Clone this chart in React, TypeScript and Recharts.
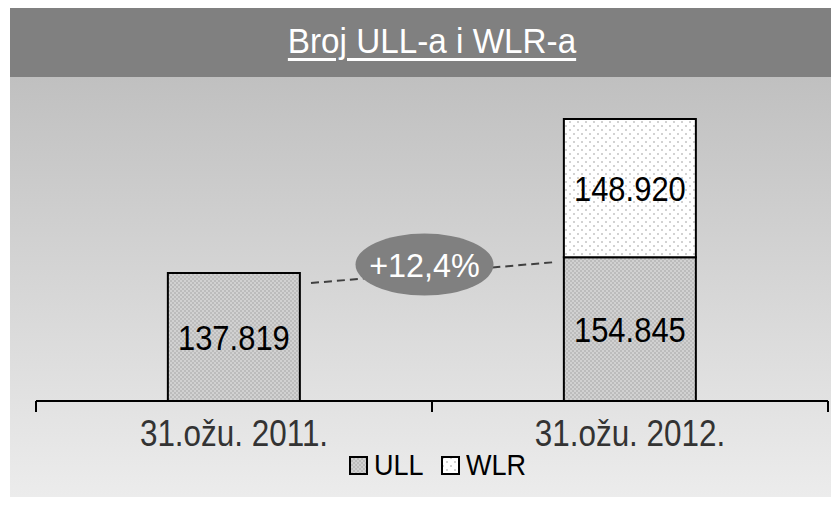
import { BarChart, Bar, XAxis, YAxis, LabelList, Legend, ReferenceLine } from 'recharts';

const categories = ['31.ožu. 2011.', '31.ožu. 2012.'];
const ullValues = [137819, 154845];
const wlrValues = [0, 148920];
const growthLabel = '+12,4%';
const seriesNames = ['ULL', 'WLR'];

const data = categories.map((name, i) => ({ name, ULL: ullValues[i], WLR: wlrValues[i] || null }));

const FONT = '"Liberation Sans", Arial, sans-serif';

const fmt = (v: any) => (v ? Number(v).toLocaleString('de-DE') : '');

// narrow look: squeeze Liberation Sans horizontally
const NarrowText = ({ x, y, size, sx, fill, children }: any) => (
    <text
        transform={`translate(${x},${y}) scale(${sx},1)`}
        textAnchor="middle"
        fill={fill}
        fontSize={size}
        fontFamily={FONT}
    >
        {children}
    </text>
);

const GrowthShape = (props: any) => {
    const { x1, y1, x2, y2 } = props;
    if (x1 == null) return null;
    const half = (x2 - x1) / 6;
    const sx = x1 + half + 11;
    const ex = x2 - half - 10;
    const sy = y1 + 10;
    const ey = y2 + 5;
    const cx = (sx + ex) / 2 - 8;
    const cy = (sy + ey) / 2 - 8;
    return (
        <g>
            <line x1={sx} y1={sy} x2={ex} y2={ey} stroke="#404040" strokeWidth={2} strokeDasharray="8 5" />
            <ellipse cx={cx} cy={cy} rx={69} ry={31} fill="#808080" />
            <NarrowText x={cx} y={cy + 12} size={33} sx={0.98} fill="#fff">{growthLabel}</NarrowText>
        </g>
    );
};

const renderBarLabel = (props: any) => {
    const { x, y, width, height, value } = props;
    if (!value) return null;
    return (
        <NarrowText x={x + width / 2} y={y + height / 2 + 13} size={36} sx={0.86} fill="#000">
            {fmt(value)}
        </NarrowText>
    );
};

const renderTick = (props: any) => {
    const { x, y, payload, index } = props;
    const bw = 792 / categories.length;
    const ay = y - 8;
    return (
        <g>
            <line x1={x - bw / 2} y1={ay} x2={x - bw / 2} y2={ay + 11} stroke="#000" strokeWidth={2} />
            {index === categories.length - 1 && (
                <line x1={x + bw / 2} y1={ay} x2={x + bw / 2} y2={ay + 11} stroke="#000" strokeWidth={2} />
            )}
            <NarrowText x={x} y={ay + 45} size={37} sx={0.85} fill="#333">{payload.value}</NarrowText>
        </g>
    );
};

const renderLegend = () => (
    <div style={{ height: 30, display: 'flex', justifyContent: 'center', alignItems: 'center', paddingLeft: 34, fontFamily: FONT, fontSize: 30, color: '#000' }}>
        {seriesNames.map((name, i) => (
            <span key={name} style={{ display: 'flex', alignItems: 'center', marginLeft: i ? 16 : 0 }}>
                <svg width={19} height={19} style={{ marginRight: 6 }}>
                    <rect x={1} y={1} width={17} height={17} fill={`url(#${name}Pat)`} stroke="#000" strokeWidth={2} />
                </svg>
                <span style={{ display: 'inline-block', width: name.length * 17, transform: 'scaleX(0.9)', transformOrigin: 'left center' }}>{name}</span>
            </span>
        ))}
    </div>
);

export default function App() {
    return (
        <div style={{ position: 'absolute', left: 0, top: 0, width: 831, height: 510, background: '#fff' }}>
            <div
                style={{
                    position: 'absolute', left: 10, top: 8, width: 821, height: 69, background: '#808080',
                    color: '#fff', fontFamily: FONT, fontSize: 35, lineHeight: '69px',
                }}
            >
                <span
                    style={{
                        position: 'absolute', left: 422, top: -2, transform: 'translateX(-50%) scaleX(0.95)', whiteSpace: 'nowrap',
                        textDecoration: 'underline', textDecorationThickness: 3, textUnderlineOffset: 5,
                    }}
                >
                    Broj ULL-a i WLR-a
                </span>
            </div>
            <div
                style={{
                    position: 'absolute', left: 10, top: 77, width: 821, height: 420,
                    background: 'linear-gradient(#c0c0c0, #ececec)',
                }}
            />
            <div style={{ position: 'absolute', left: 0, top: 0 }}>
                <BarChart width={831} height={510} data={data} margin={{ top: 76, right: 3, left: 36, bottom: 0 }} barCategoryGap="33.3%">
                    <defs>
                        <pattern id="ULLPat" width={4} height={4} patternUnits="userSpaceOnUse">
                            <rect width={4} height={4} fill="#bcbcbc" />
                            <circle cx={1} cy={1} r={0.75} fill="#f2f2f2" />
                            <circle cx={3} cy={3} r={0.75} fill="#f2f2f2" />
                        </pattern>
                        <pattern id="WLRPat" width={8} height={8} patternUnits="userSpaceOnUse">
                            <rect width={8} height={8} fill="#fff" />
                            <circle cx={2} cy={2} r={0.8} fill="#9a9a9a" />
                            <circle cx={6} cy={6} r={0.8} fill="#9a9a9a" />
                        </pattern>
                    </defs>
                    <XAxis
                        dataKey="name"
                        axisLine={{ stroke: '#000', strokeWidth: 2 }}
                        tickLine={false}
                        tick={renderTick}
                        height={79}
                        interval={0}
                    />
                    <YAxis hide domain={[0, 350000]} />
                    <Legend content={renderLegend} wrapperStyle={{ left: 0, width: 831, top: 450, bottom: 'auto' }} />
                    <Bar dataKey="ULL" stackId="a" fill="url(#ULLPat)" stroke="#000" strokeWidth={2} isAnimationActive={false}>
                        <LabelList dataKey="ULL" content={renderBarLabel} />
                    </Bar>
                    <Bar dataKey="WLR" stackId="a" fill="url(#WLRPat)" stroke="#000" strokeWidth={2} isAnimationActive={false}>
                        <LabelList dataKey="WLR" content={renderBarLabel} />
                    </Bar>
                    <ReferenceLine
                        segment={[{ x: categories[0], y: ullValues[0] }, { x: categories[1], y: ullValues[1] }]}
                        shape={GrowthShape}
                        ifOverflow="visible"
                    />
                </BarChart>
            </div>
        </div>
    );
}
